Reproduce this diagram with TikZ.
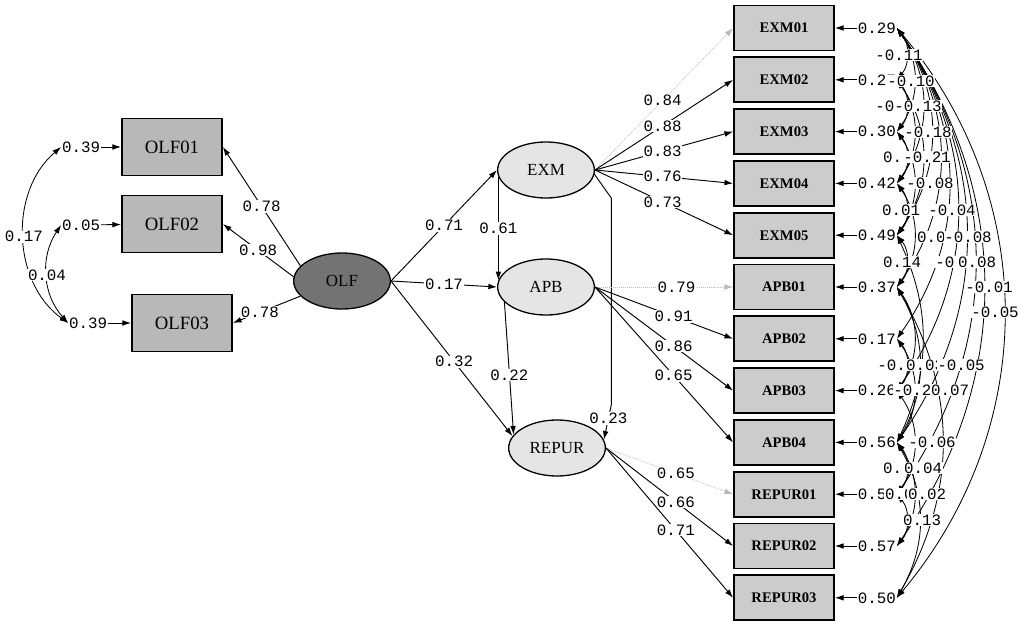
\documentclass[tikz,border=0pt]{standalone}
\usepackage{fontspec}
\setmainfont{Liberation Serif}
\setmonofont{Liberation Mono}
\usetikzlibrary{shapes.geometric,arrows.meta}
\tikzset{
  obs/.style={draw,line width=1.5pt,fill=black!28,minimum width=3cm,minimum height=1.71cm,font=\fontsize{16}{16}\selectfont},
  ind/.style={draw,line width=1.5pt,fill=black!20,minimum width=3cm,minimum height=1.35cm,font=\fontsize{12.5}{12.5}\selectfont\bfseries},
  lat/.style={ellipse,draw,line width=1.1pt,fill=black!10,minimum width=2.9cm,minimum height=1.68cm,font=\fontsize{14.5}{14.5}\selectfont},
  val/.style={font=\ttfamily\fontsize{13.5}{13.5}\selectfont,text=black,inner sep=0.6pt,fill=white},
  load/.style={->,line width=0.8pt},
  fixload/.style={->,line width=0.7pt,gray!55,densely dotted},
  cov/.style={<->,line width=0.7pt}
}
\begin{document}
\begin{tikzpicture}[x=0.03cm,y=-0.03cm,>={Latex[length=2.6mm,width=1.7mm]}]
\useasboundingbox (0,0) rectangle (1020,621);
\node[obs] (OLF01) at (172,147) {OLF01};
\node[obs] (OLF02) at (172,224) {OLF02};
\node[obs] (OLF03) at (182,323) {OLF03};
\node[lat,fill=black!55] (OLF) at (342,281) {OLF};
\node[val,anchor=east] (e1) at (101,147) {0.39};
\node[val,anchor=east] (e2) at (101,225) {0.05};
\node[val,anchor=east] (e3) at (108,323) {0.39};
\foreach \i in {1,2,3} \draw[load] (e\i) -- (OLF0\i);
\draw[cov] (e1.west) to[bend right=52] node[val]{0.17} (e3.west);
\draw[cov] (e2.west) to[bend right=38] node[val]{0.04} (e3.west);
\draw[load] (OLF.160) -- node[val]{0.78} (OLF01.east);
\draw[load] (OLF.175) -- node[val]{0.98} (OLF02.east);
\draw[load] (OLF.200) -- node[val,pos=.6]{0.78} (OLF03.east);

\node[lat] (EXM) at (546,170) {EXM};
\node[lat] (APB) at (546,287) {APB};
\node[lat] (REPUR) at (557,448) {REPUR};
\draw[load] (OLF.east) -- node[val]{0.71} (EXM.west);
\draw[load] (OLF.east) -- node[val]{0.17} (APB.west);
\draw[load] (OLF.east) -- node[val,pos=.52]{0.32} (REPUR.165);
\draw[load] (EXM.188) -- node[val]{0.61} (APB.172);
\draw[load] (APB.200) -- node[val,pos=.55]{0.22} (REPUR.163);
\draw[load] (EXM.-5) -- ++(17,24) -- ++(0,206) -- node[val,pos=.4]{0.23} (REPUR.10);

\foreach \n/\e [count=\i] in {EXM01/0.29,EXM02/0.27,EXM03/0.30,EXM04/0.42,EXM05/0.49,APB01/0.37,APB02/0.17,APB03/0.26,APB04/0.56,REPUR01/0.50,REPUR02/0.57,REPUR03/0.50}
{
  \node[ind] (\n) at (784,{28+51.8*(\i-1)}) {\n};
  \node[val,anchor=west] (r\i) at (857,{28+51.8*(\i-1)}) {\e};
  \draw[load] (r\i) -- (\n);
}

\draw[fixload] (EXM.east) -- node[val,pos=.49]{0.84} (EXM01.west);
\foreach \n/\v in {EXM02/0.88,EXM03/0.83,EXM04/0.76,EXM05/0.73}
  \draw[load] (EXM.east) -- node[val,pos=.49]{\v} (\n.west);
\draw[fixload] (APB.east) -- node[val,pos=.59]{0.79} (APB01.west);
\foreach \n/\v in {APB02/0.91,APB03/0.86,APB04/0.65}
  \draw[load] (APB.east) -- node[val,pos=.57]{\v} (\n.west);
\draw[fixload] (REPUR.east) -- node[val,pos=.55]{0.65} (REPUR01.west);
\foreach \n/\v in {REPUR02/0.66,REPUR03/0.71}
  \draw[load] (REPUR.east) -- node[val,pos=.55]{\v} (\n.west);

% error covariances
\foreach \a/\b/\k in {1/2/40,1/3/35,1/4/35,1/5/35,1/6/35,1/7/35,1/8/35,1/9/35,1/10/35,1/11/35,1/12/40,
  2/3/40,2/4/35,2/5/35,3/4/40,3/5/35,4/5/40,4/6/35,5/6/40,5/9/25,6/8/35,6/9/30,6/12/30,
  7/8/40,7/9/35,8/10/35,9/10/40,9/11/35,10/11/40,9/12/30}
  \draw[cov] (r\a.east) to[bend left=\k] (r\b.east);
\foreach \x/\y/\c [count=\i] in {899/55/-0.11,911/81/-0.10,899/106/-0.04,918/106/-0.13,928/132/-0.18,
  902/157/0.03,927/157/-0.21,930/183/-0.08,901/210/0.01,952/210/-0.04,936/237/0.02,968/237/-0.08,
  902/262/0.14,959/262/-0.02,977/262/0.08,989/287/-0.01,995/312/-0.05,901/365/-0.02,925/365/0.03,
  961/365/-0.05,917/390/-0.20,950/390/0.07,932/442/-0.06,902/468/0.01,923/468/0.04,904/494/0.01,
  927/494/0.02,922/520/0.13}
  \node[val] (c\i) at (\x,\y) {\c};
\end{tikzpicture}
\end{document}
